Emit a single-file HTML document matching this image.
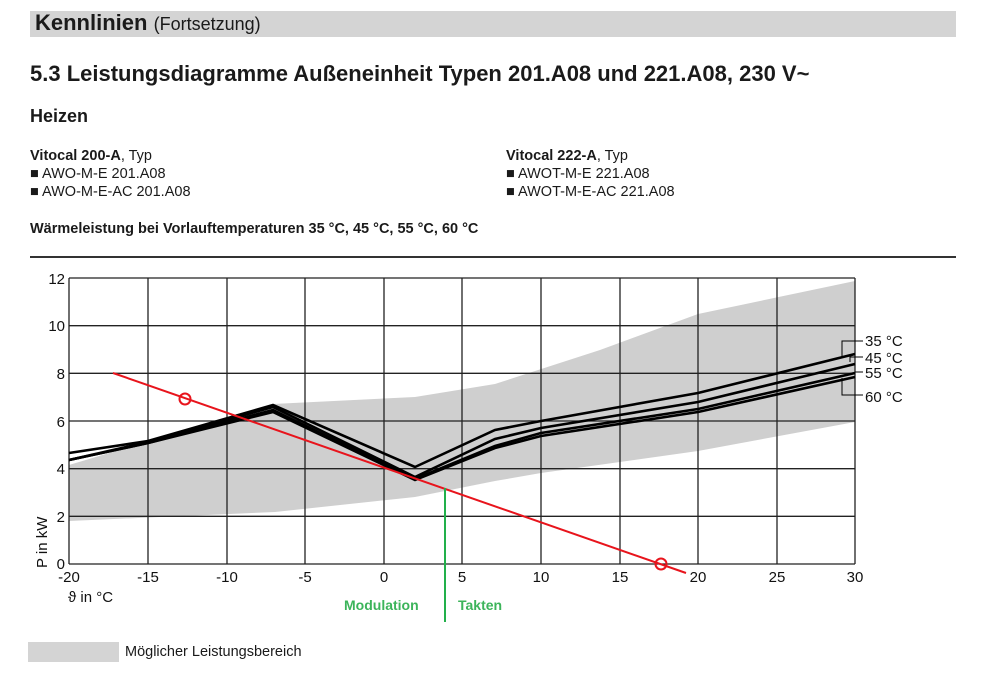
<!DOCTYPE html>
<html><head><meta charset="utf-8"><style>
body{margin:0;width:999px;height:681px;background:#fff;font-family:"Liberation Sans",Arial,sans-serif;color:#1a1a1a;position:relative;overflow:hidden}
.a{position:absolute;white-space:nowrap}
</style></head><body>
<div class="a" style="left:30px;top:11px;width:926px;height:26px;background:#d4d4d4"></div>
<div class="a" style="left:35px;top:10px;font-size:22px;line-height:26px"><b>Kennlinien</b> <span style="font-size:18px">(Fortsetzung)</span></div>
<div class="a" style="left:30px;top:61px;font-size:22px;font-weight:bold">5.3 Leistungsdiagramme Außeneinheit Typen 201.A08 und 221.A08, 230 V~</div>
<div class="a" style="left:30px;top:106px;font-size:18px;font-weight:bold">Heizen</div>
<div class="a" style="left:30px;top:147px;font-size:14.5px;line-height:18px"><b>Vitocal 200-A</b>, Typ<br>■ AWO-M-E 201.A08<br>■ AWO-M-E-AC 201.A08</div>
<div class="a" style="left:506px;top:147px;font-size:14.5px;line-height:18px"><b>Vitocal 222-A</b>, Typ<br>■ AWOT-M-E 221.A08<br>■ AWOT-M-E-AC 221.A08</div>
<div class="a" style="left:30px;top:221px;font-size:14.5px;font-weight:bold">Wärmeleistung bei Vorlauftemperaturen 35 °C, 45 °C, 55 °C, 60 °C</div>
<div class="a" style="left:30px;top:256px;width:926px;height:2px;background:#333"></div>
<svg class="a" style="left:0;top:0" width="999" height="681" font-family="Liberation Sans, Arial, sans-serif">
<polygon fill="#cfcfcf" points="69,465 273,404 415,397 495,384 600,350 698,314 855,281 855,422 698,451 541,473 495,481 415,497 275,512 69,521"/>
<g stroke="#222" stroke-width="1.3">
<line x1="69" y1="278" x2="855" y2="278"/><line x1="69" y1="325.7" x2="855" y2="325.7"/><line x1="69" y1="373.3" x2="855" y2="373.3"/><line x1="69" y1="421" x2="855" y2="421"/><line x1="69" y1="468.7" x2="855" y2="468.7"/><line x1="69" y1="516.3" x2="855" y2="516.3"/><line x1="69" y1="564" x2="855" y2="564"/>
<line x1="69" y1="278" x2="69" y2="564"/><line x1="148" y1="278" x2="148" y2="564"/><line x1="227" y1="278" x2="227" y2="564"/><line x1="305" y1="278" x2="305" y2="564"/><line x1="384" y1="278" x2="384" y2="564"/><line x1="462" y1="278" x2="462" y2="564"/><line x1="541" y1="278" x2="541" y2="564"/><line x1="620" y1="278" x2="620" y2="564"/><line x1="698" y1="278" x2="698" y2="564"/><line x1="777" y1="278" x2="777" y2="564"/><line x1="855" y1="278" x2="855" y2="564"/>
</g>
<g fill="none" stroke="#000" stroke-width="2.6" stroke-linejoin="miter">
<polyline points="69,453 148,441 273,405 415,467 495,430 541,421 698,393 855,354"/>
<polyline points="69,460 148,442 273,407 415,477 495,439 541,428 698,402 855,364"/>
<polyline points="69,460 148,443 273,410 415,479 495,446 541,433 698,409 855,373"/>
<polyline points="69,460 148,443 273,412 415,480 495,448 541,436 698,412 855,377"/>
</g>
<line x1="113" y1="373" x2="686" y2="573" stroke="#e8141c" stroke-width="2"/>
<circle cx="185" cy="399" r="5.5" fill="none" stroke="#e8141c" stroke-width="2"/>
<circle cx="661" cy="564" r="5.5" fill="none" stroke="#e8141c" stroke-width="2"/>
<line x1="445" y1="488" x2="445" y2="622" stroke="#22b04b" stroke-width="2"/>
<g fill="none" stroke="#000" stroke-width="1">
<polyline points="842,356 842,341 863,341"/>
<polyline points="850,362 850,357 863,357"/>
<line x1="855" y1="372" x2="863" y2="372"/>
<polyline points="842,378 842,395 863,395"/>
</g>
<g font-size="15" fill="#111">
<text x="865" y="346">35 °C</text><text x="865" y="363">45 °C</text><text x="865" y="378">55 °C</text><text x="865" y="402">60 °C</text>
</g>
<g font-size="15" fill="#111" text-anchor="end">
<text x="65" y="284">12</text><text x="65" y="331">10</text><text x="65" y="379">8</text><text x="65" y="427">6</text><text x="65" y="474">4</text><text x="65" y="522">2</text><text x="65" y="569">0</text>
</g>
<g font-size="15" fill="#111" text-anchor="middle">
<text x="69" y="582">-20</text><text x="148" y="582">-15</text><text x="227" y="582">-10</text><text x="305" y="582">-5</text><text x="384" y="582">0</text><text x="462" y="582">5</text><text x="541" y="582">10</text><text x="620" y="582">15</text><text x="698" y="582">20</text><text x="777" y="582">25</text><text x="855" y="582">30</text>
</g>
<text x="47" y="568" font-size="15" fill="#111" transform="rotate(-90 47 568)">P in kW</text>
<text x="68" y="602" font-size="15" fill="#111">ϑ in °C</text>
<text x="344" y="610" font-size="14" font-weight="bold" fill="#3cb45a">Modulation</text>
<text x="458" y="610" font-size="14" font-weight="bold" fill="#3cb45a">Takten</text>
</svg>
<div class="a" style="left:28px;top:642px;width:91px;height:20px;background:#d4d4d4"></div>
<div class="a" style="left:125px;top:644px;font-size:14.5px">Möglicher Leistungsbereich</div>
</body></html>
